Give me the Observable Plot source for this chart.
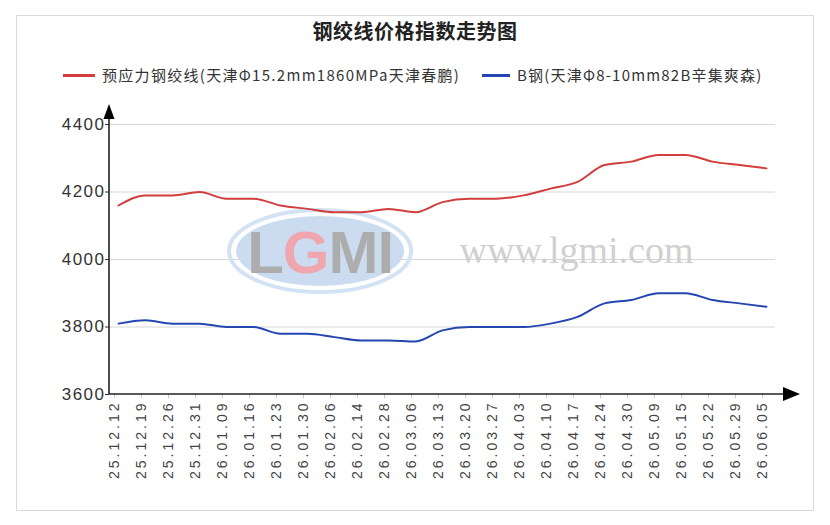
<!DOCTYPE html>
<html><head><meta charset="utf-8">
<script src="https://cdn.jsdelivr.net/npm/d3@7"></script>
<script src="https://cdn.jsdelivr.net/npm/@observablehq/plot@0.6"></script>
<style>
body{margin:0;background:#fff;font-family:"Noto Sans CJK SC","Noto Sans",sans-serif;}
#wrap{position:relative;width:830px;height:525px;overflow:hidden;}
#frame{position:absolute;left:16px;top:15px;width:798px;height:496px;border:1px solid #d9d9d9;box-sizing:border-box;}
#title{position:absolute;left:0;width:830px;top:18px;line-height:26px;text-align:center;font-size:20px;font-weight:bold;color:#222;letter-spacing:0.5px;}
.leg{position:absolute;top:64px;line-height:22px;font-size:15px;color:#333;white-space:nowrap;letter-spacing:1.3px;}
.sw{display:inline-block;width:32px;height:3px;vertical-align:middle;margin-right:7px;position:relative;top:-1px;}
#chart{position:absolute;left:0;top:100px;}
</style>
</head><body>
<div id="wrap">
  <div id="frame"></div>
  <div id="title"></div>
  <div id="leg1" class="leg"></div>
  <div id="leg2" class="leg"></div>
  <div id="chart"></div>
</div>
<script>
const title = "钢绞线价格指数走势图";
const seriesNames = ["预应力钢绞线(天津Φ15.2mm1860MPa天津春鹏)", "B钢(天津Φ8-10mm82B辛集爽森)"];
const seriesColors = ["#d23d3d", "#2446b0"];
const dates = ["25.12.12","25.12.19","25.12.26","25.12.31","26.01.09","26.01.16","26.01.23","26.01.30","26.02.06","26.02.14","26.02.28","26.03.06","26.03.13","26.03.20","26.03.27","26.04.03","26.04.10","26.04.17","26.04.24","26.04.30","26.05.09","26.05.15","26.05.22","26.05.29","26.06.05"];
const strandValues = [4160,4190,4190,4200,4180,4180,4160,4150,4140,4140,4150,4140,4170,4180,4180,4190,4210,4230,4280,4290,4310,4310,4290,4280,4270];
const bSteelValues = [3810,3820,3810,3810,3800,3800,3780,3780,3770,3760,3760,3757,3790,3800,3800,3800,3810,3830,3870,3880,3900,3900,3880,3870,3860];
const yTicks = [3600,3800,4000,4200,4400];
const gridTicks = [3800,4000,4200,4400];
const watermarkLogo = ["L","G","M","I"];
const watermarkUrl = "www.lgmi.com";

document.getElementById("title").textContent = title;
const leg1 = document.getElementById("leg1");
leg1.style.left = "63px";
leg1.innerHTML = `<span class="sw" style="background:${seriesColors[0]}"></span>`;
leg1.appendChild(document.createTextNode(seriesNames[0]));
const leg2 = document.getElementById("leg2");
leg2.style.left = "482px";
leg2.style.letterSpacing = "1.2px";
leg2.innerHTML = `<span class="sw" style="background:${seriesColors[1]};width:28px"></span>`;
leg2.appendChild(document.createTextNode(seriesNames[1]));

const data = [];
dates.forEach((d, i) => {
  data.push({date: d, value: strandValues[i], series: seriesNames[0]});
  data.push({date: d, value: bSteelValues[i], series: seriesNames[1]});
});

const chart = Plot.plot({
  width: 830,
  height: 410,
  marginLeft: 109,
  marginRight: 55,
  marginTop: 24,
  marginBottom: 116,
  style: {fontFamily: "'Liberation Sans', Arial, sans-serif", background: "transparent", overflow: "visible"},
  x: {type: "point", domain: dates, padding: 0},
  y: {domain: [3600, 4400]},
  color: {domain: seriesNames, range: seriesColors},
  marks: [
    Plot.gridY(gridTicks, {stroke: "#d6d6d6", strokeOpacity: 1}),
    Plot.axisY(yTicks, {tickSize: 4, tickPadding: 0, fontSize: 17, fill: "#333", stroke: "#333", label: null, tickFormat: d => String(d)}),
    Plot.axisX({tickRotate: -90, tickSize: 4, tickPadding: 2, fontSize: 14, fill: "#444", stroke: "#c8c8c8", label: null, dx: -4}),
    Plot.line(data, {x: "date", y: "value", stroke: "series", z: "series", curve: "monotone-x", strokeWidth: 2})
  ]
});
document.getElementById("chart").appendChild(chart);

const svg = d3.select(chart);
svg.selectAll("g[aria-label='x-axis tick label'] text").attr("letter-spacing", "3px");
svg.selectAll("g[aria-label='y-axis tick label'] text").attr("letter-spacing", "1.5px");

const xs = chart.scale("x"), ys = chart.scale("y");
const x0 = xs.range[0], x1 = xs.range[1];
const yBottom = ys.apply(3600), yTop = ys.apply(4400);

// watermark
const wm = svg.append("g").attr("aria-label", "watermark");
const cx = x0 + (x1 - x0) * 0.317, cy = ys.apply(4000) - 8;
wm.append("ellipse").attr("cx", cx).attr("cy", cy).attr("rx", 91).attr("ry", 41)
  .attr("fill", "none").attr("stroke", "#d4e3f3").attr("stroke-width", 4);
wm.append("ellipse").attr("cx", cx).attr("cy", cy).attr("rx", 84).attr("ry", 35).attr("fill", "#cbdcf0");
const lt = wm.append("text").attr("x", cx).attr("y", cy + 22).attr("text-anchor", "middle")
  .attr("font-family", "'Liberation Sans', Arial, sans-serif").attr("font-weight", "bold")
  .attr("font-size", 60).attr("letter-spacing", "-1px");
watermarkLogo.forEach((c, i) => lt.append("tspan").attr("fill", i === 1 ? "#f0a6ae" : "#adadad").text(c));
wm.append("text").attr("x", x0 + (x1 - x0) * 0.702).attr("y", ys.apply(4000) + 4).attr("text-anchor", "middle")
  .attr("font-family", "'Liberation Serif', 'DejaVu Serif', serif").attr("font-size", 38)
  .attr("fill", "#d0d0d0").text(watermarkUrl);

// axis lines with arrows
const ax = svg.append("g").attr("aria-label", "axis-lines");
ax.append("line").attr("x1", x0).attr("x2", x0).attr("y1", yBottom).attr("y2", yTop - 5)
  .attr("stroke", "#222").attr("stroke-width", 1.6);
ax.append("path").attr("d", `M${x0},${yTop - 20}L${x0 + 5.5},${yTop - 5}L${x0 - 5.5},${yTop - 5}Z`).attr("fill", "#000");
ax.append("line").attr("x1", x0).attr("x2", x1 + 9).attr("y1", yBottom).attr("y2", yBottom)
  .attr("stroke", "#222").attr("stroke-width", 1.6);
ax.append("path").attr("d", `M${x1 + 25},${yBottom}L${x1 + 8},${yBottom - 7}L${x1 + 8},${yBottom + 7}Z`).attr("fill", "#000");

svg.selectAll("g[aria-label='line']").raise();
</script>
</body></html>
